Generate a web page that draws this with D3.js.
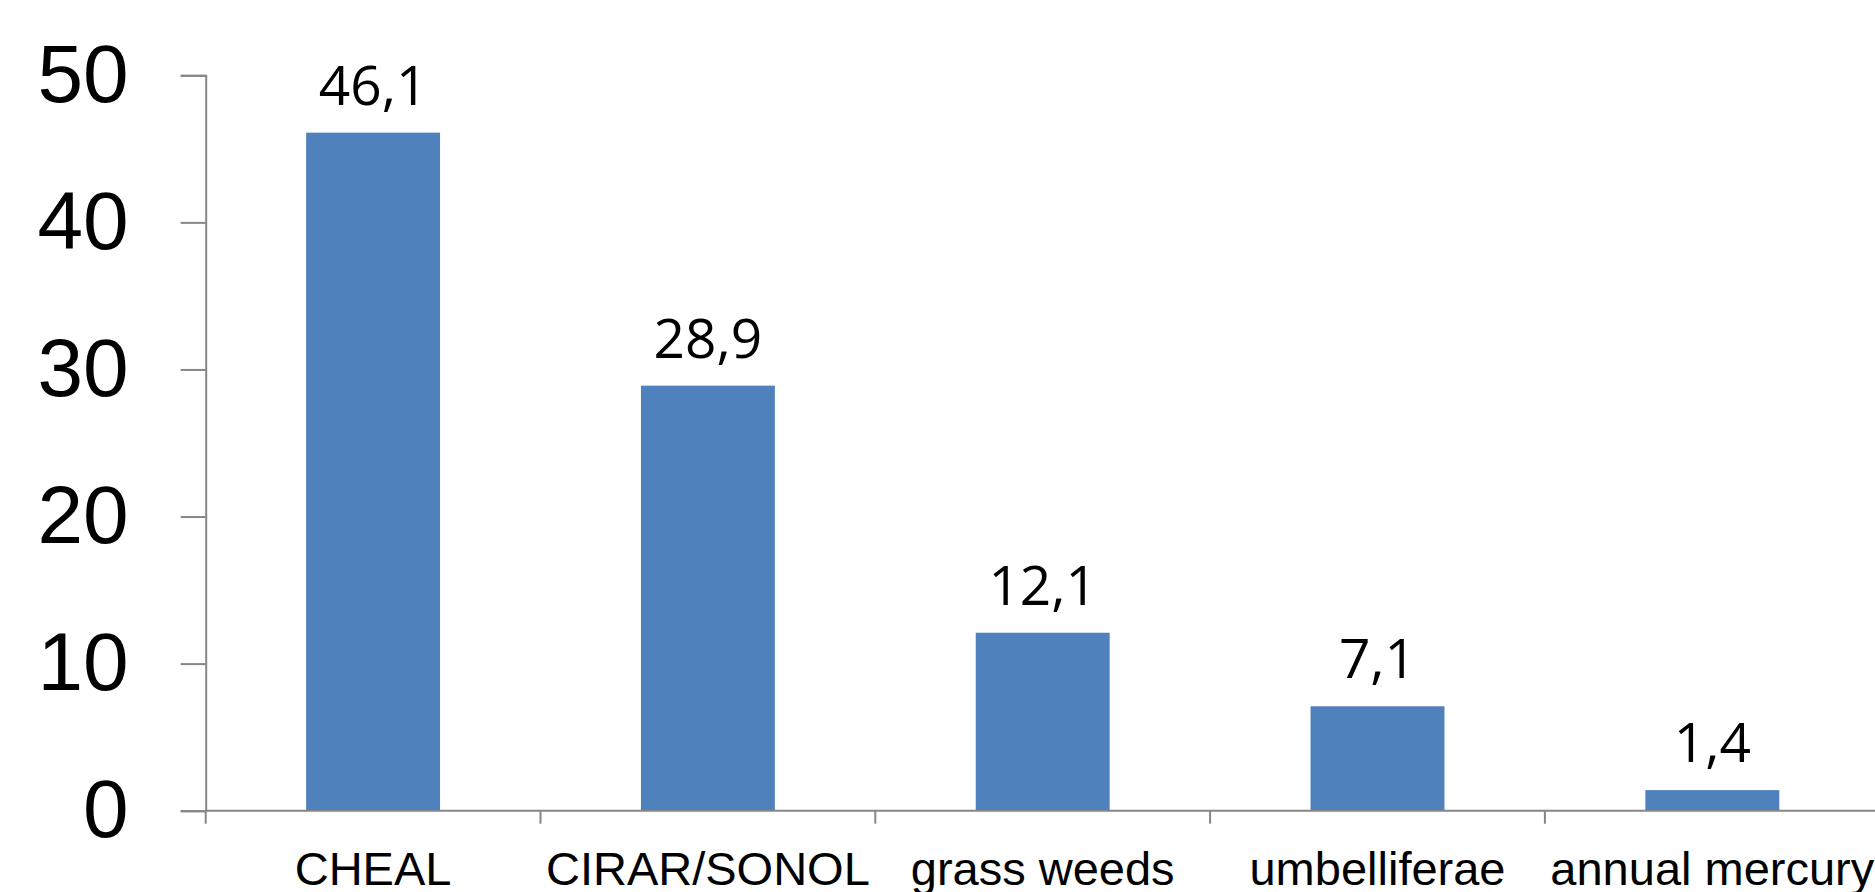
<!DOCTYPE html>
<html>
<head>
<meta charset="utf-8">
<script src="https://cdn.jsdelivr.net/npm/d3@7"></script>
<style>
html,body{margin:0;padding:0;background:#fff;overflow:hidden;}
</style>
</head>
<body>
<svg id="chart" width="1875" height="892"></svg>
<script>
const categories = ["CHEAL", "CIRAR/SONOL", "grass weeds", "umbelliferae", "annual mercury"];
const values = [46.1, 28.9, 12.1, 7.1, 1.4];
const valueLabels = ["46,1", "28,9", "12,1", "7,1", "1,4"];
const yTicks = [0, 10, 20, 30, 40, 50];

(function () {
const svg = d3.select("#chart");
const axisColor = "#868686";
const barColor = "#4F81BD";

const plotLeft = 205.7, plotRight = 1879.7, plotTop = 75.3, plotBottom = 810.7;

const x = d3.scaleBand().domain(categories).range([plotLeft, plotRight])
  .paddingInner(0.6).paddingOuter(0.3);
const y = d3.scaleLinear().domain([0, 50]).range([plotBottom, plotTop]);

// bars
svg.append("g").selectAll("rect").data(values).join("rect")
  .attr("x", (d, i) => x(categories[i]))
  .attr("y", d => y(d))
  .attr("width", x.bandwidth())
  .attr("height", d => y(0) - y(d))
  .attr("fill", barColor);

// y axis
const yAxis = svg.append("g").attr("transform", `translate(${plotLeft},0)`)
  .call(d3.axisLeft(y).tickValues(yTicks).tickSize(25).tickPadding(52).tickFormat(d3.format("d")));
yAxis.select(".domain").attr("stroke", axisColor).attr("stroke-width", 2);
yAxis.selectAll(".tick line").attr("stroke", axisColor).attr("stroke-width", 2);
yAxis.selectAll(".tick text")
  .attr("fill", "#000")
  .style("font-family", "'Liberation Sans', Arial, sans-serif")
  .style("font-size", "82px");

// x axis baseline
const step = x.step();
const boundaries = categories.map(c => x(c) - step * 0.3).concat([x(categories[categories.length - 1]) + x.bandwidth() + step * 0.3]);
svg.append("line")
  .attr("x1", plotLeft).attr("x2", 1875)
  .attr("y1", y(0)).attr("y2", y(0))
  .attr("stroke", axisColor).attr("stroke-width", 2);
svg.append("g").selectAll("line").data(boundaries).join("line")
  .attr("x1", d => d).attr("x2", d => d)
  .attr("y1", y(0)).attr("y2", y(0) + 13)
  .attr("stroke", axisColor).attr("stroke-width", 2);

// category labels
svg.append("g").selectAll("text").data(categories).join("text")
  .attr("x", d => x(d) + x.bandwidth() / 2)
  .attr("y", 885)
  .attr("text-anchor", "middle")
  .style("font-family", "'Liberation Sans', Arial, sans-serif")
  .style("font-size", "47px")
  .attr("fill", "#000")
  .text(d => d);

// value labels
svg.append("g").selectAll("text").data(values).join("text")
  .attr("x", (d, i) => x(categories[i]) + x.bandwidth() / 2)
  .attr("y", d => y(d) - 28)
  .attr("text-anchor", "middle")
  .style("font-family", "'Open Sans', sans-serif")
  .style("font-size", "55px")
  .attr("fill", "#000")
  .text((d, i) => valueLabels[i]);
})();
</script>
</body>
</html>
